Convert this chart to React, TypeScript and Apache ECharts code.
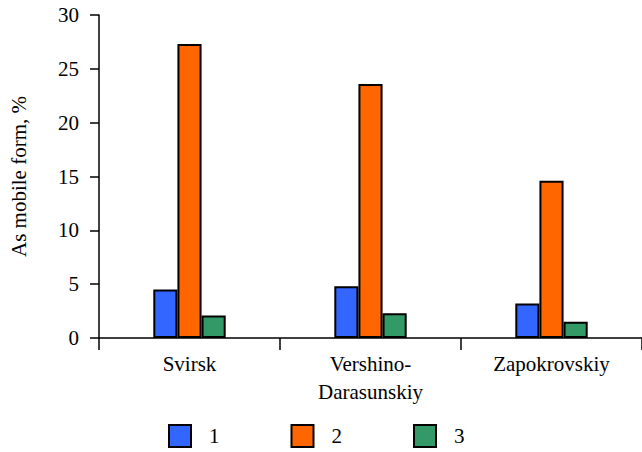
import React, { useEffect, useRef } from "react";
import * as echarts from "echarts";

const categories = ["Svirsk", "Vershino-\nDarasunskiy", "Zapokrovskiy"];
const seriesNames = ["1", "2", "3"];
const series1 = [4.5, 4.8, 3.2];
const series2 = [27.3, 23.6, 14.6];
const series3 = [2.1, 2.3, 1.5];
const colors = ["#3366FF", "#FF6600", "#339966"];
const yTicks = { min: 0, max: 30, interval: 5 };
const yName = "As mobile form, %";

const FONT = "Times New Roman";

export default function App() {
  const ref = useRef<HTMLDivElement>(null);
  useEffect(() => {
    if (!ref.current) return;
    const chart = echarts.init(ref.current, null, { renderer: "svg" });
    const data = [series1, series2, series3];
    chart.setOption({
      animation: false,
      textStyle: { fontFamily: FONT },
      grid: { left: 98, right: 0, top: 15, bottom: 114, containLabel: false },
      legend: {
        left: 168,
        top: 424,
        padding: 0,
        itemWidth: 22,
        itemHeight: 22,
        itemGap: 71,
        icon: "rect",
        data: seriesNames,
        itemStyle: { borderColor: "#000", borderWidth: 2 },
        textStyle: {
          fontFamily: FONT,
          fontSize: 21,
          color: "#000",
          padding: [0, 0, 0, 13],
          lineHeight: 22,
        },
      },
      xAxis: {
        type: "category",
        data: categories,
        axisLine: { lineStyle: { color: "#000", width: 1.5 } },
        axisTick: { show: true, length: 12, lineStyle: { color: "#000", width: 1.5 } },
        axisLabel: {
          color: "#000",
          fontFamily: FONT,
          fontSize: 21,
          margin: 12,
          lineHeight: 28,
          interval: 0,
        },
        splitLine: { show: false },
      },
      yAxis: {
        type: "value",
        min: yTicks.min,
        max: yTicks.max,
        interval: yTicks.interval,
        name: yName,
        nameLocation: "middle",
        nameRotate: 90,
        nameGap: 70,
        nameTextStyle: { color: "#000", fontFamily: FONT, fontSize: 21 },
        axisLine: { show: true, lineStyle: { color: "#000", width: 1.5 } },
        axisTick: { show: true, length: 9, lineStyle: { color: "#000", width: 1.5 } },
        axisLabel: { color: "#000", fontFamily: FONT, fontSize: 21, margin: 20 },
        splitLine: { show: false },
      },
      series: seriesNames.map((name, i) => ({
        name,
        type: "bar",
        data: data[i],
        barGap: "0%",
        barCategoryGap: "60%",
        itemStyle: { color: colors[i], borderColor: "#000", borderWidth: 2 },
      })),
    });
    return () => chart.dispose();
  }, []);
  return (
    <div
      ref={ref}
      style={{ position: "absolute", left: 0, top: 0, width: 642, height: 452 }}
    />
  );
}
